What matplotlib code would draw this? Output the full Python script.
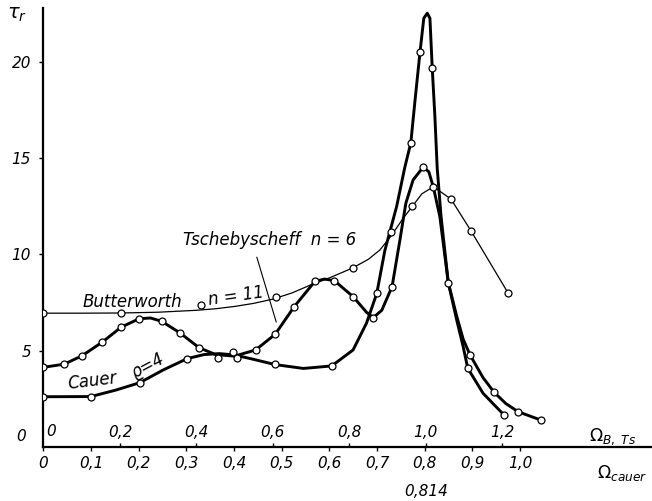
import numpy as np
import matplotlib
matplotlib.use("Agg")
import matplotlib.pyplot as plt
from matplotlib import font_manager as fm

# ---- data (x in Omega_B units, y = tau_r) ----
# Butterworth n=11 (thin curve + measured points)
bw_curve_x = [0, 0.1, 0.203, 0.3, 0.4, 0.45, 0.5, 0.55, 0.6, 0.65, 0.697, 0.75, 0.809, 0.85, 0.88, 0.909,
              0.94, 0.965, 0.99, 1.02, 1.066, 1.118, 1.216]
bw_curve_y = [6.95, 6.95, 6.96, 7.0, 7.1, 7.18, 7.3, 7.46, 7.68, 8.0, 8.4, 8.8, 9.3, 9.75, 10.23, 10.95,
              11.85, 12.5, 13.15, 13.52, 12.88, 11.24, 7.98]
bw_pts_x = [0, 0.203, 0.412, 0.608, 0.81, 0.909, 0.965, 1.02, 1.066, 1.118, 1.216]
bw_pts_y = [6.95, 6.95, 7.38, 7.78, 9.28, 11.15, 12.52, 13.52, 12.88, 11.24, 7.98]

# Tschebyscheff n=6
ts_curve_x = [0, 0.054, 0.101, 0.154, 0.203, 0.25, 0.28, 0.309, 0.356, 0.407, 0.45, 0.5, 0.555, 0.606,
              0.656, 0.71, 0.735, 0.761, 0.81, 0.845, 0.863, 0.885, 0.912, 0.9325, 0.948, 0.967, 0.993,
              1.008, 1.02, 1.037, 1.059, 1.081, 1.098, 1.116, 1.15, 1.179, 1.21, 1.242, 1.301]
ts_curve_y = [4.14, 4.30, 4.74, 5.45, 6.22, 6.66, 6.7, 6.53, 5.94, 5.16, 4.8, 4.72, 5.04, 5.85,
              7.29, 8.6, 8.72, 8.64, 7.81, 7.0, 6.72, 7.1, 8.33, 10.75, 12.66, 13.87, 14.53,
              14.3, 13.5, 11.96, 8.54, 6.8, 5.6, 4.78, 3.6, 2.84, 2.25, 1.83, 1.40]
ts_pts_x = [0, 0.054, 0.101, 0.154, 0.203, 0.25, 0.309, 0.356, 0.407, 0.457, 0.497, 0.555, 0.606,
            0.656, 0.71, 0.761, 0.81, 0.863, 0.912, 0.993, 1.059, 1.116, 1.179, 1.242, 1.301]
ts_pts_y = [4.14, 4.30, 4.74, 5.45, 6.22, 6.66, 6.53, 5.94, 5.16, 4.61, 4.95, 5.04, 5.85,
            7.29, 8.64, 8.64, 7.81, 6.72, 8.33, 14.53, 8.54, 4.78, 2.84, 1.83, 1.40]

# Cauer rho=4
ca_curve_x = [0, 0.124, 0.19, 0.252, 0.313, 0.376, 0.42, 0.46, 0.5, 0.55, 0.606, 0.68, 0.754, 0.81,
              0.845, 0.872, 0.893, 0.924, 0.945, 0.961, 0.972, 0.985, 0.995, 1.004, 1.011, 1.017,
              1.024, 1.03, 1.04, 1.059, 1.081, 1.098, 1.11, 1.15, 1.205]
ca_curve_y = [2.61, 2.62, 2.96, 3.34, 4.0, 4.59, 4.8, 4.85, 4.78, 4.55, 4.28, 4.08, 4.21, 5.04,
              6.43, 7.98, 10.2, 12.5, 14.5, 15.8, 18.0, 20.5, 22.27, 22.53, 22.27, 19.7,
              17.16, 14.5, 12.0, 8.54, 6.6, 5.21, 4.09, 2.79, 1.66]
ca_pts_x = [0, 0.124, 0.252, 0.376, 0.507, 0.606, 0.754, 0.872, 0.961, 0.985, 1.017, 1.11, 1.205]
ca_pts_y = [2.61, 2.61, 3.34, 4.59, 4.61, 4.30, 4.21, 7.98, 15.8, 20.5, 19.7, 4.09, 1.66]

yticks = [5, 10, 15, 20]
omega_b_ticks = [0.2, 0.4, 0.6, 0.8, 1.0, 1.2]
cauer_ticks = [0, 0.1, 0.2, 0.3, 0.4, 0.5, 0.6, 0.7, 0.8, 0.9, 1.0]
b_per_cauer = 1.247   # Omega_B per Omega_cauer as drawn

names = {f.name for f in fm.fontManager.ttflist}
numfam = 'Liberation Sans Narrow' if 'Liberation Sans Narrow' in names else 'DejaVu Sans'
numsize = 13.5 if numfam != 'DejaVu Sans' else 11
numfont = dict(family=numfam, style='italic', size=numsize)
txtfont = dict(family='DejaVu Sans', style='italic', size=12)

def comma(v):
    return ("%.1f" % v).replace('.', ',')

fig = plt.figure(figsize=(6.52, 5.01), dpi=100)
ax = fig.add_axes([0.0667, 0.1078, 0.9333, 0.8762])
ax.set_xlim(0, 1.592)
ax.set_ylim(0, 22.8)
for s in ['top', 'right']:
    ax.spines[s].set_visible(False)
ax.spines['left'].set_linewidth(1.6)
ax.spines['bottom'].set_linewidth(1.6)

mk = dict(marker='o', linestyle='none', markersize=5, markerfacecolor='white',
          markeredgecolor='black', markeredgewidth=0.9, zorder=5)

ax.plot(bw_curve_x, bw_curve_y, color='black', lw=0.9, zorder=3)
ax.plot(ts_curve_x, ts_curve_y, color='black', lw=2.1, zorder=4)
ax.plot(ca_curve_x, ca_curve_y, color='black', lw=2.1, zorder=4)
ax.plot(bw_pts_x, bw_pts_y, **mk)
ax.plot(ts_pts_x, ts_pts_y, **mk)
ax.plot(ca_pts_x, ca_pts_y, **mk)

# y axis
ax.set_yticks(yticks, [str(v) for v in yticks], fontfamily=numfam, fontstyle='italic', fontsize=numsize)
ax.tick_params(axis='y', direction='out', length=3, width=1.0, pad=6)
ax.text(-0.059, 0.52, '0', ha='center', va='center', clip_on=False, **numfont)
ax.text(-0.07, 22.45, r'$\tau_r$', ha='center', va='center', fontsize=14, clip_on=False)

# Omega_B scale: labels above the axis line
ax.set_xticks(omega_b_ticks, [comma(v) for v in omega_b_ticks],
              fontfamily=numfam, fontstyle='italic', fontsize=numsize)
ax.tick_params(axis='x', direction='in', length=3, width=1.0, pad=-15.5)
ax.text(0.02, 0.8, '0', ha='center', va='center', **numfont)
ax.text(1.49, 0.55, r'$\Omega_{B,\ Ts}$', ha='center', va='center', fontsize=12.5)

# Omega_cauer scale below the axis line
sec = ax.secondary_xaxis('bottom', functions=(lambda x: x / b_per_cauer, lambda x: x * b_per_cauer))
sec.set_xticks(cauer_ticks, ['0'] + [comma(v) for v in cauer_ticks[1:]],
               fontfamily=numfam, fontstyle='italic', fontsize=numsize)
sec.tick_params(direction='out', length=3, width=1.0, pad=3.5)
sec.spines['bottom'].set_visible(False)
ax.text(1.0, -2.3, '0,814', ha='center', va='center', clip_on=False, **numfont)
ax.text(1.513, -1.35, r'$\Omega_{cauer}$', ha='center', va='center', fontsize=12.5, clip_on=False)

# curve labels
ax.text(0.103, 7.53, 'Butterworth', ha='left', va='center', **txtfont)
ax.text(0.428, 7.84, 'n = 11', ha='left', va='center', rotation=8, **txtfont)
ax.text(0.365, 10.75, 'Tschebyscheff  n = 6', ha='left', va='center', **txtfont)
ax.annotate('', xy=(0.611, 6.35), xytext=(0.556, 10.0),
            arrowprops=dict(arrowstyle='-', lw=0.8, color='black'))
ax.text(0.061, 3.43, 'Cauer', ha='left', va='center', rotation=7, **txtfont)
ax.text(0.273, 4.2, 'ϱ=4', ha='center', va='center', rotation=28, **txtfont)

fig.savefig('out.png', dpi=100)
